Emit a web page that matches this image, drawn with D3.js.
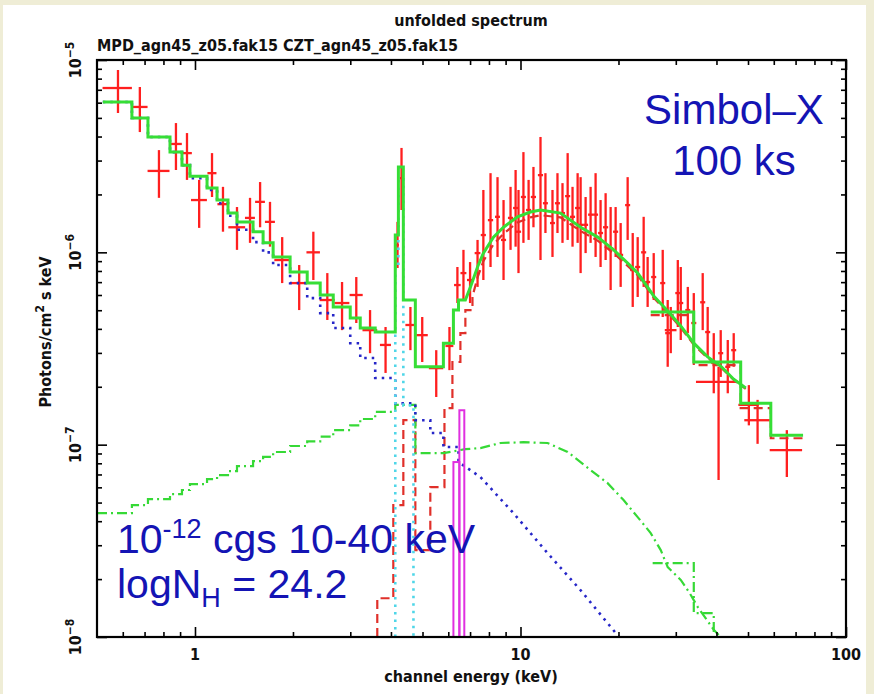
<!DOCTYPE html>
<html><head><meta charset="utf-8">
<script src="https://cdn.jsdelivr.net/npm/d3@7/dist/d3.min.js"></script>
<style>
html,body{margin:0;padding:0;background:#efedd6;}
svg{display:block;}
.pg{font-family:"DejaVu Sans Condensed","DejaVu Sans",sans-serif;fill:#111;font-weight:bold;}
.ann{font-family:"Liberation Sans",Arial,sans-serif;fill:#1414b4;}
</style></head><body>
<svg id="chart" width="874" height="694"></svg>
<script>
// ---------- tick labels ----------
const xTickMajor = [1, 10, 100];
const xTickLabels = ["1", "10", "100"];
const xTickMinor = [0.6,0.7,0.8,0.9,2,3,4,5,6,7,8,9,20,30,40,50,60,70,80,90];
const yTickMajor = [1e-8, 1e-7, 1e-6, 1e-5];
const yTickExp = ["\u22128", "\u22127", "\u22126", "\u22125"];
const yTickMinor = [2e-8,3e-8,4e-8,5e-8,6e-8,7e-8,8e-8,9e-8,2e-7,3e-7,4e-7,5e-7,6e-7,7e-7,8e-7,9e-7,2e-6,3e-6,4e-6,5e-6,6e-6,7e-6,8e-6,9e-6];

// ---------- data points (keV, photons/cm2/s/keV) ----------
const dataE = [0.58,0.677,0.775,0.874,0.945,1.03,1.128,1.219,1.346,1.476,1.585,1.70,1.853,2.09,2.31,2.55,2.83,3.13,3.45,3.85,
  4.19,4.31,4.59,4.99,5.51,6.05,6.40,6.68,7.00,7.38,
  7.69,8.09,8.50,8.87,9.32,9.66,9.86,10.21,10.59,10.96,11.52,11.93,12.54,12.99,13.46,13.96,14.45,14.98,15.30,15.85,
  16.42,17.01,17.62,18.26,18.92,19.60,20.31,21.34,22.12,22.91,23.90,24.58,25.66,27.35,28.33,28.95,30.43,31.07,32.66,34.07,
  36.29,37.59,39.24,41.22,43.33,45.19,
  40.6,50.3,53.5,65.8];
const dataDE = [0.06,0.038,0.06,0.037,0.033,0.058,0.036,0.047,0.08,0.052,0.055,0.06,0.10,0.125,0.11,0.135,0.15,0.145,0.18,0.15,
  0.04,0.05,0.16,0.2,0.28,0.17,0.15,0.14,0.15,0.15,
  0.14,0.15,0.15,0.16,0.17,0.17,0.18,0.18,0.19,0.2,0.21,0.21,0.22,0.23,0.24,0.25,0.26,0.27,0.27,0.28,
  0.29,0.3,0.31,0.33,0.34,0.35,0.36,0.38,0.4,0.41,0.43,0.44,0.46,0.49,0.5,1.2,0.54,0.55,0.58,0.61,
  0.65,0.67,0.7,0.73,0.77,0.8,
  6.0,3.6,4.8,7.5];
const dataF = [7.15e-6,5.70e-6,2.65e-6,3.66e-6,3.28e-6,1.87e-6,2.58e-6,1.78e-6,1.35e-6,1.51e-6,1.83e-6,1.44e-6,9.12e-7,6.92e-7,1.00e-6,5.65e-7,5.45e-7,6.00e-7,3.94e-7,3.30e-7,
  1.09e-6,2.43e-6,4.19e-7,3.71e-7,2.50e-7,3.26e-7,6.76e-7,7.80e-7,7.18e-7,9.91e-7,
  1.23e-6,1.47e-6,1.53e-6,1.16e-6,1.51e-6,1.70e-6,1.28e-6,1.94e-6,1.66e-6,1.94e-6,2.52e-6,1.80e-6,1.42e-6,1.80e-6,1.60e-6,1.96e-6,1.53e-6,1.70e-6,1.39e-6,1.39e-6,
  1.57e-6,1.57e-6,1.26e-6,1.35e-6,1.05e-6,1.28e-6,9.7e-7,1.76e-6,8.09e-7,8.39e-7,1.00e-6,7.01e-7,7.44e-7,6.92e-7,3.80e-7,3.94e-7,6.14e-7,5.45e-7,5.01e-7,4.29e-7,
  5.5e-7,3.85e-7,2.66e-7,2.99e-7,2.54e-7,3.10e-7,
  2.12e-7,1.61e-7,1.34e-7,9.37e-8];
const dataFLo = [5.30e-6,4.22e-6,1.92e-6,2.68e-6,2.38e-6,1.34e-6,1.94e-6,1.28e-6,1.03e-6,1.12e-6,1.35e-6,1.07e-6,6.92e-7,5.01e-7,7.18e-7,4.45e-7,3.94e-7,4.29e-7,2.99e-7,2.36e-7,
  8.29e-7,1.66e-6,3.10e-7,2.69e-7,1.77e-7,2.44e-7,5.45e-7,5.65e-7,5.45e-7,6.61e-7,
  7.18e-7,8.39e-7,9.46e-7,7.18e-7,1.03e-6,1.07e-6,7.80e-7,1.12e-6,1.16e-6,1.35e-6,9.12e-7,1.26e-6,9.46e-7,1.26e-6,1.12e-6,1.16e-6,1.07e-6,1.12e-6,7.80e-7,9.91e-7,
  1.12e-6,9.46e-7,8.39e-7,9.12e-7,6.37e-7,9.46e-7,6.61e-7,1.16e-6,5.20e-7,5.86e-7,6.61e-7,5.20e-7,5.65e-7,4.61e-7,2.54e-7,2.99e-7,4.09e-7,3.50e-7,3.80e-7,2.99e-7,
  3.94e-7,2.86e-7,1.85e-7,2.25e-7,1.85e-7,2.54e-7,
  6.55e-8,1.26e-7,1.01e-7,6.79e-8];
const dataFHi = [8.87e-6,7.24e-6,3.40e-6,4.70e-6,4.17e-6,2.38e-6,3.28e-6,2.19e-6,1.72e-6,1.92e-6,2.32e-6,1.83e-6,1.20e-6,8.59e-7,1.28e-6,7.80e-7,7.01e-7,7.44e-7,5.01e-7,4.09e-7,
  1.44e-6,3.49e-6,5.20e-7,4.61e-7,3.10e-7,4.09e-7,8.39e-7,1.03e-6,8.9e-7,1.16e-6,
  2.11e-6,2.58e-6,2.46e-6,1.87e-6,2.19e-6,2.68e-6,2.11e-6,3.32e-6,2.38e-6,2.78e-6,3.98e-6,2.58e-6,2.11e-6,2.58e-6,2.29e-6,3.28e-6,2.19e-6,2.58e-6,2.46e-6,1.94e-6,
  2.19e-6,2.58e-6,1.87e-6,2.03e-6,1.72e-6,1.72e-6,1.42e-6,2.46e-6,1.26e-6,1.20e-6,1.53e-6,9.46e-7,9.91e-7,1.03e-6,5.65e-7,5.20e-7,9.12e-7,8.39e-7,6.61e-7,6.14e-7,
  7.80e-7,5.20e-7,3.80e-7,3.94e-7,3.50e-7,3.80e-7,
  2.54e-7,2.04e-7,1.71e-7,1.19e-7];

// ---------- total model (green solid) ----------
const totalStepEdges = [0.521,0.640,0.717,0.838,0.912,0.965,1.089,1.169,1.263,1.346,1.508,1.619,1.738,1.960,2.212,2.425,2.659,2.999,3.219,3.578,4.124,4.216,4.366,4.753,5.796,6.222,6.45,6.771];
const totalStepF = [6.05e-6,4.99e-6,3.98e-6,3.32e-6,2.84e-6,2.49e-6,2.16e-6,1.87e-6,1.60e-6,1.44e-6,1.28e-6,1.12e-6,9.46e-7,7.90e-7,6.92e-7,6.00e-7,5.20e-7,4.55e-7,4.04e-7,3.85e-7,1.23e-6,2.78e-6,5.65e-7,2.54e-7,3.37e-7,5.01e-7,5.65e-7];
const totalCurveE = [6.771,7.02,7.38,7.69,8.26,8.87,9.79,10.73,11.52,13.27,15.30,17.26,19.33,21.34,22.91,25.66,28.33,31.07,34.07,37.59,41.22,45.19,49.2];
const totalCurveF = [5.65e-7,6.61e-7,8.39e-7,9.91e-7,1.20e-6,1.35e-6,1.53e-6,1.62e-6,1.66e-6,1.60e-6,1.35e-6,1.20e-6,1.03e-6,8.79e-7,7.80e-7,5.93e-7,4.95e-7,4.14e-7,3.37e-7,2.86e-7,2.56e-7,2.19e-7,1.97e-7];
const totalCztEdges = [25.12,34.07,47.48,58.75,73.81];
const totalCztF = [4.90e-7,2.69e-7,1.64e-7,1.12e-7];

// ---------- absorbed power law (red dashed) ----------
const absStepEdges = [3.631,4.067,4.366,4.753,5.284,5.84,6.178,6.537,6.771,7.12];
const absStepF = [1.59e-8,4.85e-8,1.34e-7,2.83e-8,6.02e-8,1.55e-7,2.69e-7,3.80e-7,5.01e-7];
const absCurveE = [7.12,7.38,7.69,8.26,8.87,9.79,10.73,11.52,13.27,15.30,17.26,19.33,21.34,22.91,25.66,28.33,31.07,34.07,37.59,41.22,45.19,49.2];
const absCurveF = [5.9e-7,7.4e-7,9.0e-7,1.10e-6,1.25e-6,1.43e-6,1.52e-6,1.56e-6,1.52e-6,1.29e-6,1.15e-6,9.9e-7,8.5e-7,7.6e-7,5.8e-7,4.85e-7,4.06e-7,3.31e-7,2.82e-7,2.53e-7,2.17e-7,1.95e-7];
const absCztEdges = [25.12,34.07,47.48,58.75,73.81];
const absCztF = [4.72e-7,2.59e-7,1.55e-7,1.08e-7];

// ---------- scattered power law (blue dotted) ----------
const scatStepEdges = [0.521,0.640,0.717,0.838,0.912,0.965,1.089,1.169,1.263,1.346,1.508,1.619,1.738,1.960,2.212,2.425,2.659,2.999,3.219,3.578,4.124,4.753,5.284,5.796,6.45];
const scatStepF = [6.05e-6,4.99e-6,3.98e-6,3.32e-6,2.84e-6,2.43e-6,2.11e-6,1.80e-6,1.55e-6,1.31e-6,1.13e-6,1.00e-6,8.59e-7,6.92e-7,5.78e-7,4.83e-7,4.04e-7,3.37e-7,2.82e-7,2.22e-7,1.64e-7,1.34e-7,1.15e-7,9.72e-8];
const scatCurveE = [6.45,7.53,9.51,12.11,15.30,19.88,21.0];
const scatCurveF = [8.12e-8,6.79e-8,4.41e-8,2.73e-8,1.75e-8,1.02e-8,9.0e-9];

// ---------- reflection (green dash-dot) ----------
const reflStepEdges = [0.5,0.640,0.717,0.838,0.912,0.965,1.089,1.169,1.263,1.346,1.508,1.619,1.738,1.960,2.212,2.425,2.659,2.999,3.219,3.578,4.124,4.753];
const reflStepF = [4.41e-8,4.85e-8,5.21e-8,5.53e-8,5.81e-8,6.24e-8,6.62e-8,6.95e-8,7.29e-8,7.74e-8,8.22e-8,8.63e-8,9.16e-8,9.84e-8,1.04e-7,1.10e-7,1.19e-7,1.26e-7,1.36e-7,1.48e-7,1.61e-7];
const reflCurveE = [4.753,5.796,6.771,7.531,8.677,10.21,12.11,13.96,16.42,18.52,20.73,22.91,25.12,26.97,28.33,31.07,33.1,35.06,39.24,41.22];
const reflCurveF = [9.04e-8,9.04e-8,9.48e-8,9.60e-8,1.02e-7,1.03e-7,1.02e-7,9.16e-8,7.38e-8,6.31e-8,5.15e-8,4.20e-8,3.47e-8,2.83e-8,2.31e-8,1.98e-8,1.69e-8,1.43e-8,1.09e-8,1.0e-8];
const reflCztEdges = [25.47,34.07,39.24,58.75];
const reflCztF = [2.42e-8,1.33e-8,1.0e-8];

// ---------- lines (cyan dotted, magenta) ----------
const lineCyanEdges = [4.124,4.216,4.366,4.69];
const lineCyanF = [8.5e-7,2.4e-6,1.6e-7];
const lineMagEdges = [6.222,6.49,6.72];
const lineMagF = [8.12e-8,1.51e-7];

// ====================================================
const svg = d3.select("#chart");
svg.append("rect").attr("x",0).attr("y",0).attr("width",874).attr("height",694).attr("fill","#efedd6");
svg.append("rect").attr("x",3).attr("y",5).attr("width",863).attr("height",689).attr("fill","#ffffff");

const L=97, R=846, T=60, B=637;
const x = d3.scaleLog().domain([0.5, 100]).range([L, R]);
const y = d3.scaleLog().domain([1e-8, 1e-5]).range([B, T]);
const yMin = y.domain()[0];

svg.append("clipPath").attr("id","clip").append("rect").attr("x",L).attr("y",T).attr("width",R-L).attr("height",B-T);
const plot = svg.append("g").attr("clip-path","url(#clip)");

const line = d3.line().x(d=>x(d[0])).y(d=>y(d[1]));
function stepPts(edges, vals, fromBottom, toBottom){
  const pts=[];
  if(fromBottom) pts.push([edges[0], yMin]);
  vals.forEach((v,i)=>{ pts.push([edges[i],v]); pts.push([edges[i+1],v]); });
  if(toBottom) pts.push([edges[edges.length-1], yMin]);
  return pts;
}
function curvePts(es, fs){ return es.map((e,i)=>[e,fs[i]]); }

// data crosses
const RED="#ff1f1f";
const gData = plot.append("g").attr("stroke",RED).attr("stroke-width",2.3);
dataE.forEach((e,i)=>{
  gData.append("line").attr("x1",x(e-dataDE[i])).attr("x2",x(e+dataDE[i])).attr("y1",y(dataF[i])).attr("y2",y(dataF[i]));
  gData.append("line").attr("x1",x(e)).attr("x2",x(e)).attr("y1",y(dataFLo[i])).attr("y2",y(dataFHi[i]));
});

// absorbed power law (red dashed)
const absStyle = p=>p.attr("fill","none").attr("stroke","#e0302a").attr("stroke-width",2.2).attr("stroke-dasharray","9,5");
absStyle(plot.append("path").attr("d", line(stepPts(absStepEdges, absStepF, true, false).concat(curvePts(absCurveE, absCurveF)))));
absStyle(plot.append("path").attr("d", line(stepPts(absCztEdges, absCztF, false, false))));

// reflection (green dash-dot)
const reflStyle = p=>p.attr("fill","none").attr("stroke","#36d936").attr("stroke-width",2.2).attr("stroke-dasharray","10,4,2,4");
reflStyle(plot.append("path").attr("d", line(stepPts(reflStepEdges, reflStepF, false, false).concat(curvePts(reflCurveE, reflCurveF)))));
reflStyle(plot.append("path").attr("d", line(stepPts(reflCztEdges, reflCztF, false, false))));

// scattered (blue dotted)
plot.append("path").attr("d", line(stepPts(scatStepEdges, scatStepF, false, false).concat(curvePts(scatCurveE, scatCurveF))))
  .attr("fill","none").attr("stroke","#2626c8").attr("stroke-width",2.6).attr("stroke-dasharray","2.5,5");

// cyan gaussian line
plot.append("path").attr("d", line(stepPts(lineCyanEdges, lineCyanF, true, true)))
  .attr("fill","none").attr("stroke","#4fd6e8").attr("stroke-width",2.6).attr("stroke-dasharray","2.5,5");

// magenta line bins
lineMagF.forEach((v,i)=>{
  plot.append("rect").attr("x",x(lineMagEdges[i])).attr("y",y(v))
    .attr("width",x(lineMagEdges[i+1])-x(lineMagEdges[i])).attr("height",y(yMin)-y(v)+2)
    .attr("fill","none").attr("stroke","#e030e0").attr("stroke-width",2);
});

// total model (green solid)
const totStyle = p=>p.attr("fill","none").attr("stroke","#36de36").attr("stroke-width",3);
totStyle(plot.append("path").attr("d", line(stepPts(totalStepEdges, totalStepF, false, false).concat(curvePts(totalCurveE, totalCurveF)))));
totStyle(plot.append("path").attr("d", line(stepPts(totalCztEdges, totalCztF, false, false))));

// ---------- axes / frame ----------
function tickAxis(gen, vals, size, transform){
  const g = svg.append("g").attr("transform",transform).call(gen.tickValues(vals).tickSize(size).tickFormat(""));
  g.select(".domain").remove();
  g.selectAll(".tick line").attr("stroke","#000").attr("stroke-width",1.6);
  return g;
}
tickAxis(d3.axisBottom(x), xTickMajor, -10, `translate(0,${B})`);
tickAxis(d3.axisBottom(x), xTickMinor, -5, `translate(0,${B})`);
tickAxis(d3.axisTop(x), xTickMajor, -10, `translate(0,${T})`);
tickAxis(d3.axisTop(x), xTickMinor, -5, `translate(0,${T})`);
tickAxis(d3.axisLeft(y), yTickMajor, -10, `translate(${L},0)`);
tickAxis(d3.axisLeft(y), yTickMinor, -5, `translate(${L},0)`);
tickAxis(d3.axisRight(y), yTickMajor, -10, `translate(${R},0)`);
tickAxis(d3.axisRight(y), yTickMinor, -5, `translate(${R},0)`);

svg.append("rect").attr("x",L).attr("y",T).attr("width",R-L).attr("height",B-T)
  .attr("fill","none").attr("stroke","#000").attr("stroke-width",2.2);

// x tick labels
xTickMajor.forEach((v,i)=>{
  svg.append("text").attr("class","pg").attr("x",x(v)).attr("y",660).attr("text-anchor","middle")
    .attr("font-size",16).text(xTickLabels[i]);
});
// y tick labels (rotated, with exponent)
yTickMajor.forEach((v,i)=>{
  const t = svg.append("text").attr("class","pg").attr("text-anchor","middle").attr("font-size",16)
    .attr("transform",`translate(81,${y(v)}) rotate(-90)`);
  t.append("tspan").text("10");
  t.append("tspan").attr("dy",-7).attr("font-size",12).text(yTickExp[i]);
});

// titles
svg.append("text").attr("class","pg").attr("x",471).attr("y",26).attr("text-anchor","middle").attr("font-size",16).text("unfolded spectrum");
svg.append("text").attr("class","pg").attr("x",97).attr("y",51).attr("font-size",16).text("MPD_agn45_z05.fak15 CZT_agn45_z05.fak15");
svg.append("text").attr("class","pg").attr("x",471).attr("y",682).attr("text-anchor","middle").attr("font-size",16).text("channel energy (keV)");
const yl = svg.append("text").attr("class","pg").attr("text-anchor","middle").attr("font-size",16)
  .attr("transform","translate(51,332) rotate(-90)");
yl.append("tspan").text("Photons/cm");
yl.append("tspan").attr("dy",-7).attr("font-size",12).text("2");
yl.append("tspan").attr("dy",7).text(" s keV");

// annotations
svg.append("text").attr("class","ann").attr("x",734).attr("y",124).attr("text-anchor","middle").attr("font-size",42).text("Simbol\u2013X");
svg.append("text").attr("class","ann").attr("x",734).attr("y",175).attr("text-anchor","middle").attr("font-size",42).text("100 ks");
const a1 = svg.append("text").attr("class","ann").attr("x",117).attr("y",553).attr("font-size",41);
a1.append("tspan").text("10");
a1.append("tspan").attr("dy",-15).attr("font-size",27).text("-12");
a1.append("tspan").attr("dy",15).text(" cgs 10-40 keV");
const a2 = svg.append("text").attr("class","ann").attr("x",117).attr("y",598).attr("font-size",41);
a2.append("tspan").text("logN");
a2.append("tspan").attr("dy",9).attr("font-size",27).text("H");
a2.append("tspan").attr("dy",-9).text(" = 24.2");
</script></body></html>
